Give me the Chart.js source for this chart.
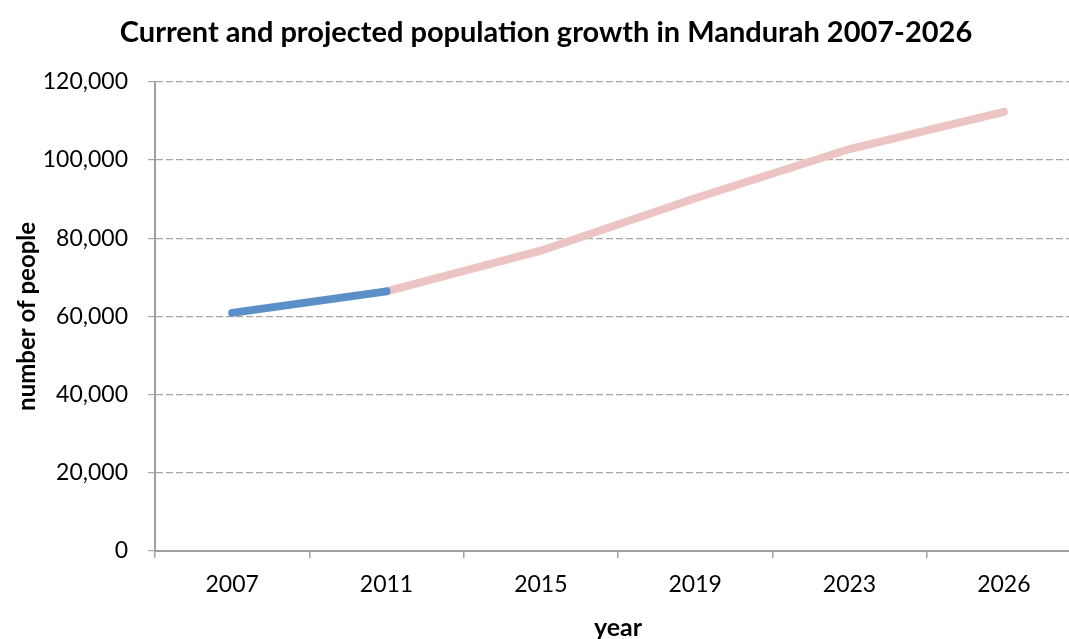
<!DOCTYPE html>
<html>
<head>
<meta charset="utf-8">
<script src="https://cdn.jsdelivr.net/npm/chart.js@4/dist/chart.umd.min.js"></script>
<style>
  html, body { margin: 0; padding: 0; background: #fff; overflow: hidden; }
  #wrap { width: 1092px; height: 650px; position: relative; }
</style>
</head>
<body>
<div id="wrap"><canvas id="chart1"></canvas></div>
<script>
// years on the x axis
const years = ['2007', '2011', '2015', '2019', '2023', '2026'];
// recorded population (blue part)
const current = [60900, 66400, null, null, null, null];
// projected population (pink part), starts where the recorded one ends
const projected = [null, 66400, 76800, 90200, 102800, 112300];
// y axis ticks
const yTicks = [0, 20000, 40000, 60000, 80000, 100000, 120000];

Chart.defaults.font.family = 'Lato';
Chart.defaults.color = '#000';

function createChart(chartID) {
    const ctx = document.getElementById(chartID).getContext('2d');
    new Chart(ctx, {
        type: 'line',
        data: {
            labels: years,
            datasets: [
                {
                    label: 'current',
                    data: current,
                    borderColor: '#5b8fc7',
                    borderWidth: 8,
                    borderCapStyle: 'round',
                    pointRadius: 0,
                    tension: 0,
                    spanGaps: false
                },
                {
                    label: 'projected',
                    data: projected,
                    borderColor: '#ebc4c3',
                    borderWidth: 8,
                    borderCapStyle: 'round',
                    pointRadius: 0,
                    tension: 0,
                    spanGaps: false
                }
            ]
        },
        options: {
            responsive: true,
            maintainAspectRatio: false,
            animation: false,
            layout: { padding: { left: 11, right: 11, top: 0, bottom: 0 } },
            scales: {
                x: {
                    offset: true,
                    grid: {
                        offset: true,
                        drawOnChartArea: false,
                        color: '#a0a0a0',
                        tickLength: 7,
                        lineWidth: 1.5
                    },
                    border: { color: '#a0a0a0', width: 2 },
                    ticks: { font: { size: 23 }, padding: 13, maxRotation: 0 },
                    title: {
                        display: true,
                        text: 'year',
                        font: { size: 25, weight: 'bold' },
                        padding: { top: 0, bottom: 7 }
                    },
                    afterFit: scale => { scale.height = 99; }
                },
                y: {
                    min: 0,
                    max: 120000,
                    afterBuildTicks: scale => {
                        scale.ticks = yTicks.map(v => ({ value: v }));
                    },
                    grid: {
                        color: '#a6a6a6',
                        lineWidth: 1.2,
                        tickLength: 7,
                        tickBorderDash: []
                    },
                    border: { color: '#a0a0a0', width: 2, dash: [7, 3] },
                    ticks: {
                        font: { size: 23 },
                        padding: 20,
                        callback: v => v.toLocaleString('en-US')
                    },
                    title: {
                        display: true,
                        text: 'number of people',
                        font: { size: 24, weight: 'bold' },
                        padding: { top: 2, bottom: 0 }
                    },
                    afterFit: scale => { scale.width = 144; }
                }
            },
            plugins: {
                legend: { display: false },
                tooltip: { enabled: false },
                title: {
                    display: true,
                    text: 'Current and projected population growth in Mandurah 2007-2026',
                    font: { size: 29, weight: 'bold' },
                    color: '#000',
                    padding: { top: 15, bottom: 32 }
                }
            }
        }
    });
}

createChart('chart1');
</script>
</body>
</html>
